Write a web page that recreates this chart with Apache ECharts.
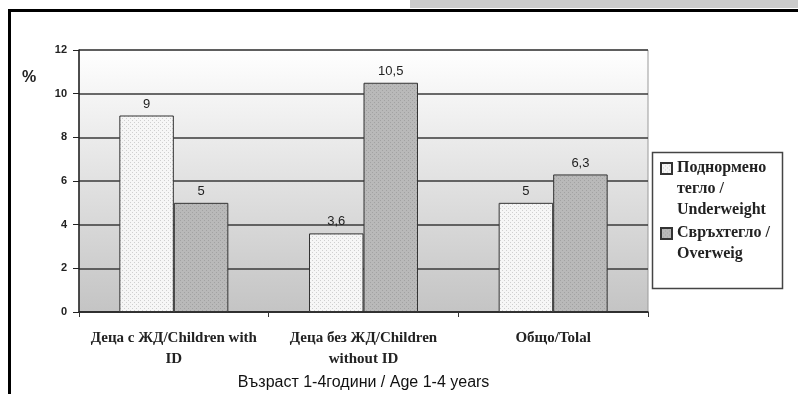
<!DOCTYPE html>
<html>
<head>
<meta charset="utf-8">
<script src="https://cdn.jsdelivr.net/npm/echarts@6/dist/echarts.min.js"></script>
<style>
  html, body { margin: 0; padding: 0; background: #fff; }
  #chart { width: 798px; height: 394px; }
</style>
</head>
<body>
<div id="chart"></div>
<script>
// Prevalence of underweight / overweight, children aged 1-4
const categories = ['Деца с ЖД/Children with ID', 'Деца без ЖД/Children without ID', 'Общо/Tolal'];
const underweight = [9, 3.6, 5];
const overweight = [5, 10.5, 6.3];
const seriesNames = ['Поднормено тегло / Underweight', 'Свръхтегло / Overweig'];
const yTicks = { min: 0, max: 12, step: 2 };
const axisTitle = 'Възраст 1-4години / Age 1-4 years';
const unitLabel = '%';

// word wrap on spaces using real text measurement
const measureCtx = document.createElement('canvas').getContext('2d');
function wrapWords(text, font, maxWidth) {
  measureCtx.font = font;
  const words = text.split(' ');
  const lines = [];
  let line = '';
  words.forEach(w => {
    const trial = line ? line + ' ' + w : w;
    if (line && measureCtx.measureText(trial).width > maxWidth) {
      lines.push(line);
      line = w;
    } else {
      line = trial;
    }
  });
  if (line) lines.push(line);
  return lines.join('\n');
}

// small repeating textures for the bar fills
function makePattern(base, dot, size) {
  const c = document.createElement('canvas');
  c.width = size; c.height = size;
  const g = c.getContext('2d');
  g.fillStyle = base; g.fillRect(0, 0, size, size);
  g.fillStyle = dot;
  g.fillRect(0, 0, 1, 1);
  g.fillRect(2, 2, 1, 1);
  return { image: c, repeat: 'repeat' };
}
const dottedFill = makePattern('#f6f6f6', '#cfcfcf', 4);
const greyFill = makePattern('#b9b9b9', '#a2a2a2', 4);

const chart = echarts.init(document.getElementById('chart'), null, { renderer: 'canvas' });

const serifBold = { fontFamily: 'Liberation Serif', fontWeight: 'bold' };
const catFont = 'bold 15px "Liberation Serif"';
const legendFont = 'bold 16px "Liberation Serif"';
const valueLabel = {
  show: true, position: 'top', distance: 5,
  fontFamily: 'Liberation Sans', fontSize: 13, color: '#222',
  formatter: p => String(p.value).replace('.', ',')
};
const legendText = Object.assign({}, serifBold, { fontSize: 16, lineHeight: 21, color: '#222' });

chart.setOption({
  animation: false,
  backgroundColor: '#ffffff',
  grid: {
    left: 79, top: 50, right: 150, bottom: 82,
    outerBoundsMode: 'none',
    containLabel: false,
    show: true,
    borderColor: '#9a9a9a', borderWidth: 1,
    backgroundColor: new echarts.graphic.LinearGradient(0, 0, 0, 1, [
      { offset: 0, color: '#ffffff' },
      { offset: 1, color: '#c4c4c4' }
    ])
  },
  xAxis: {
    type: 'category',
    data: categories,
    boundaryGap: true,
    axisLine: { lineStyle: { color: '#222', width: 1.5 } },
    axisTick: { show: true, length: 5, lineStyle: { color: '#333' } },
    axisLabel: Object.assign({}, serifBold, {
      fontSize: 15, color: '#222', lineHeight: 21, margin: 16, interval: 0,
      formatter: v => wrapWords(v, catFont, 172)
    }),
    name: axisTitle,
    nameLocation: 'middle',
    nameGap: 62,
    nameTextStyle: { fontFamily: 'Liberation Sans', fontSize: 16, color: '#111' }
  },
  yAxis: {
    type: 'value',
    min: yTicks.min, max: yTicks.max, interval: yTicks.step,
    axisLine: { show: true, lineStyle: { color: '#222', width: 1.5 } },
    axisTick: { show: true, length: 6, lineStyle: { color: '#222' } },
    axisLabel: { fontFamily: 'Liberation Sans', fontWeight: 'bold', fontSize: 11, color: '#222', margin: 12 },
    splitLine: { show: true, lineStyle: { color: '#3a3a3a', width: 1.5 } }
  },
  legend: [
    {
      data: [{ name: seriesNames[0], icon: 'path://M0,-5 M0,0h10v10h-10z M0,52.3' }],
      orient: 'vertical', left: 660, top: 156.5, padding: 0,
      itemWidth: 11, itemHeight: 63,
      formatter: n => wrapWords(n, legendFont, 110),
      textStyle: legendText
    },
    {
      data: [{ name: seriesNames[1], icon: 'path://M0,-5 M0,0h10v10h-10z M0,33.2' }],
      orient: 'vertical', left: 660, top: 221.5, padding: 0,
      itemWidth: 11, itemHeight: 42,
      formatter: n => wrapWords(n, legendFont, 110),
      textStyle: legendText
    }
  ],
  series: [
    {
      name: seriesNames[0], type: 'bar', data: underweight,
      barWidth: 54.5, barGap: '0%',
      itemStyle: { color: dottedFill, borderColor: '#333', borderWidth: 1 },
      label: valueLabel
    },
    {
      name: seriesNames[1], type: 'bar', data: overweight,
      barWidth: 54.5, barGap: '0%',
      itemStyle: { color: greyFill, borderColor: '#333', borderWidth: 1 },
      label: valueLabel
    }
  ],
  graphic: [
    // page frame and header strip
    { type: 'rect', shape: { x: 410, y: 0, width: 388, height: 8 }, style: { fill: '#cbcbcb' }, silent: true },
    { type: 'line', shape: { x1: 8, y1: 10.5, x2: 798, y2: 10.5 }, style: { stroke: '#000', lineWidth: 3 }, silent: true },
    { type: 'line', shape: { x1: 9.5, y1: 9, x2: 9.5, y2: 394 }, style: { stroke: '#000', lineWidth: 3 }, silent: true },
    // legend box
    { type: 'rect', shape: { x: 652.5, y: 152.5, width: 130, height: 136 }, style: { fill: 'rgba(0,0,0,0)', stroke: '#444', lineWidth: 1.5 }, silent: true, z: 0 },
    // unit label
    { type: 'text', left: 22, top: 70, style: { text: unitLabel, fontFamily: 'Liberation Sans', fontWeight: 'bold', fontSize: 16, fill: '#222' }, silent: true }
  ]
});
</script>
</body>
</html>
